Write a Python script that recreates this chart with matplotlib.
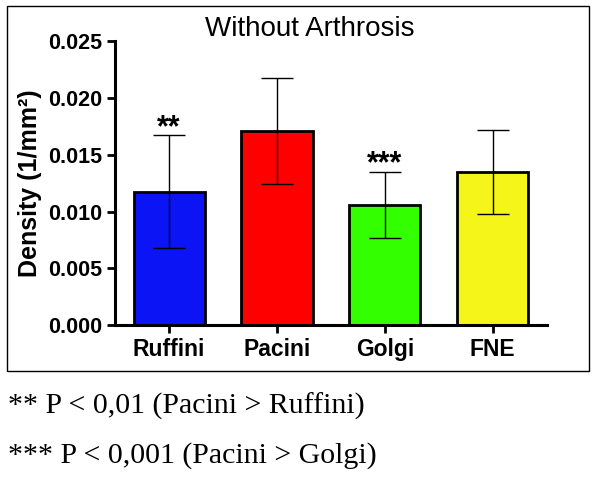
import matplotlib
matplotlib.use("Agg")
import matplotlib.pyplot as plt
from matplotlib.patches import Rectangle
from matplotlib.ticker import FormatStrFormatter

categories = ["Ruffini", "Pacini", "Golgi", "FNE"]
density = [0.0117, 0.0171, 0.0106, 0.0135]
err_low = [0.0049, 0.0047, 0.0029, 0.0037]
err_high = [0.0050, 0.0047, 0.0029, 0.0037]
colors = ["#0a14f5", "#ff0000", "#33ff00", "#f5f519"]
stars = ["**", "", "***", ""]
footnotes = ["** P < 0,01 (Pacini > Ruffini)", "*** P < 0,001 (Pacini > Golgi)"]

plt.rcParams["font.family"] = ["Liberation Sans", "DejaVu Sans"]

fig = plt.figure(figsize=(6, 4.91), dpi=100)
ax = fig.add_axes([0.192, 0.338, 0.719, 0.578])

x = range(len(categories))
ax.bar(x, density, width=0.66, color=colors, edgecolor="black", linewidth=2,
       yerr=[err_low, err_high], capsize=11.5,
       error_kw=dict(elinewidth=1, capthick=1, ecolor="black"), zorder=2)

for i, s in enumerate(stars):
    if s:
        ax.text(i, density[i] + err_high[i] - 0.0007, s, ha="center", va="bottom",
                fontsize=22, fontweight="bold")

ax.set_xlim(-0.5, 3.5)
ax.set_ylim(0, 0.025)
ax.set_yticks([0, 0.005, 0.010, 0.015, 0.020, 0.025])
ax.yaxis.set_major_formatter(FormatStrFormatter("%.3f"))
ax.set_xticks(list(x))
ax.set_xticklabels(categories, fontsize=16.5, fontweight="bold")
for lbl in ax.get_yticklabels():
    lbl.set_fontweight("bold")
    lbl.set_fontsize(15.5)
ax.tick_params(width=2, length=6, pad=3)
ax.spines["top"].set_visible(False)
ax.spines["right"].set_visible(False)
ax.spines["left"].set_linewidth(2.2)
ax.spines["bottom"].set_linewidth(2.2)
ax.set_ylabel("Density (1/mm²)", fontsize=18, fontweight="bold", labelpad=5)

fig.text(0.517, 0.94, "Without Arthrosis", ha="center", va="center", fontsize=20)

fig.patches.append(Rectangle((0.012, 1 - 371 / 491), 0.97, (371 - 6) / 491,
                             transform=fig.transFigure, fill=False,
                             edgecolor="black", linewidth=1))

fig.text(0.013, 1 - 414 / 491, footnotes[0], family="Liberation Serif",
         fontsize=21.5, va="baseline")
fig.text(0.013, 1 - 463 / 491, footnotes[1], family="Liberation Serif",
         fontsize=21.5, va="baseline")

fig.savefig("out.png", dpi=100)
